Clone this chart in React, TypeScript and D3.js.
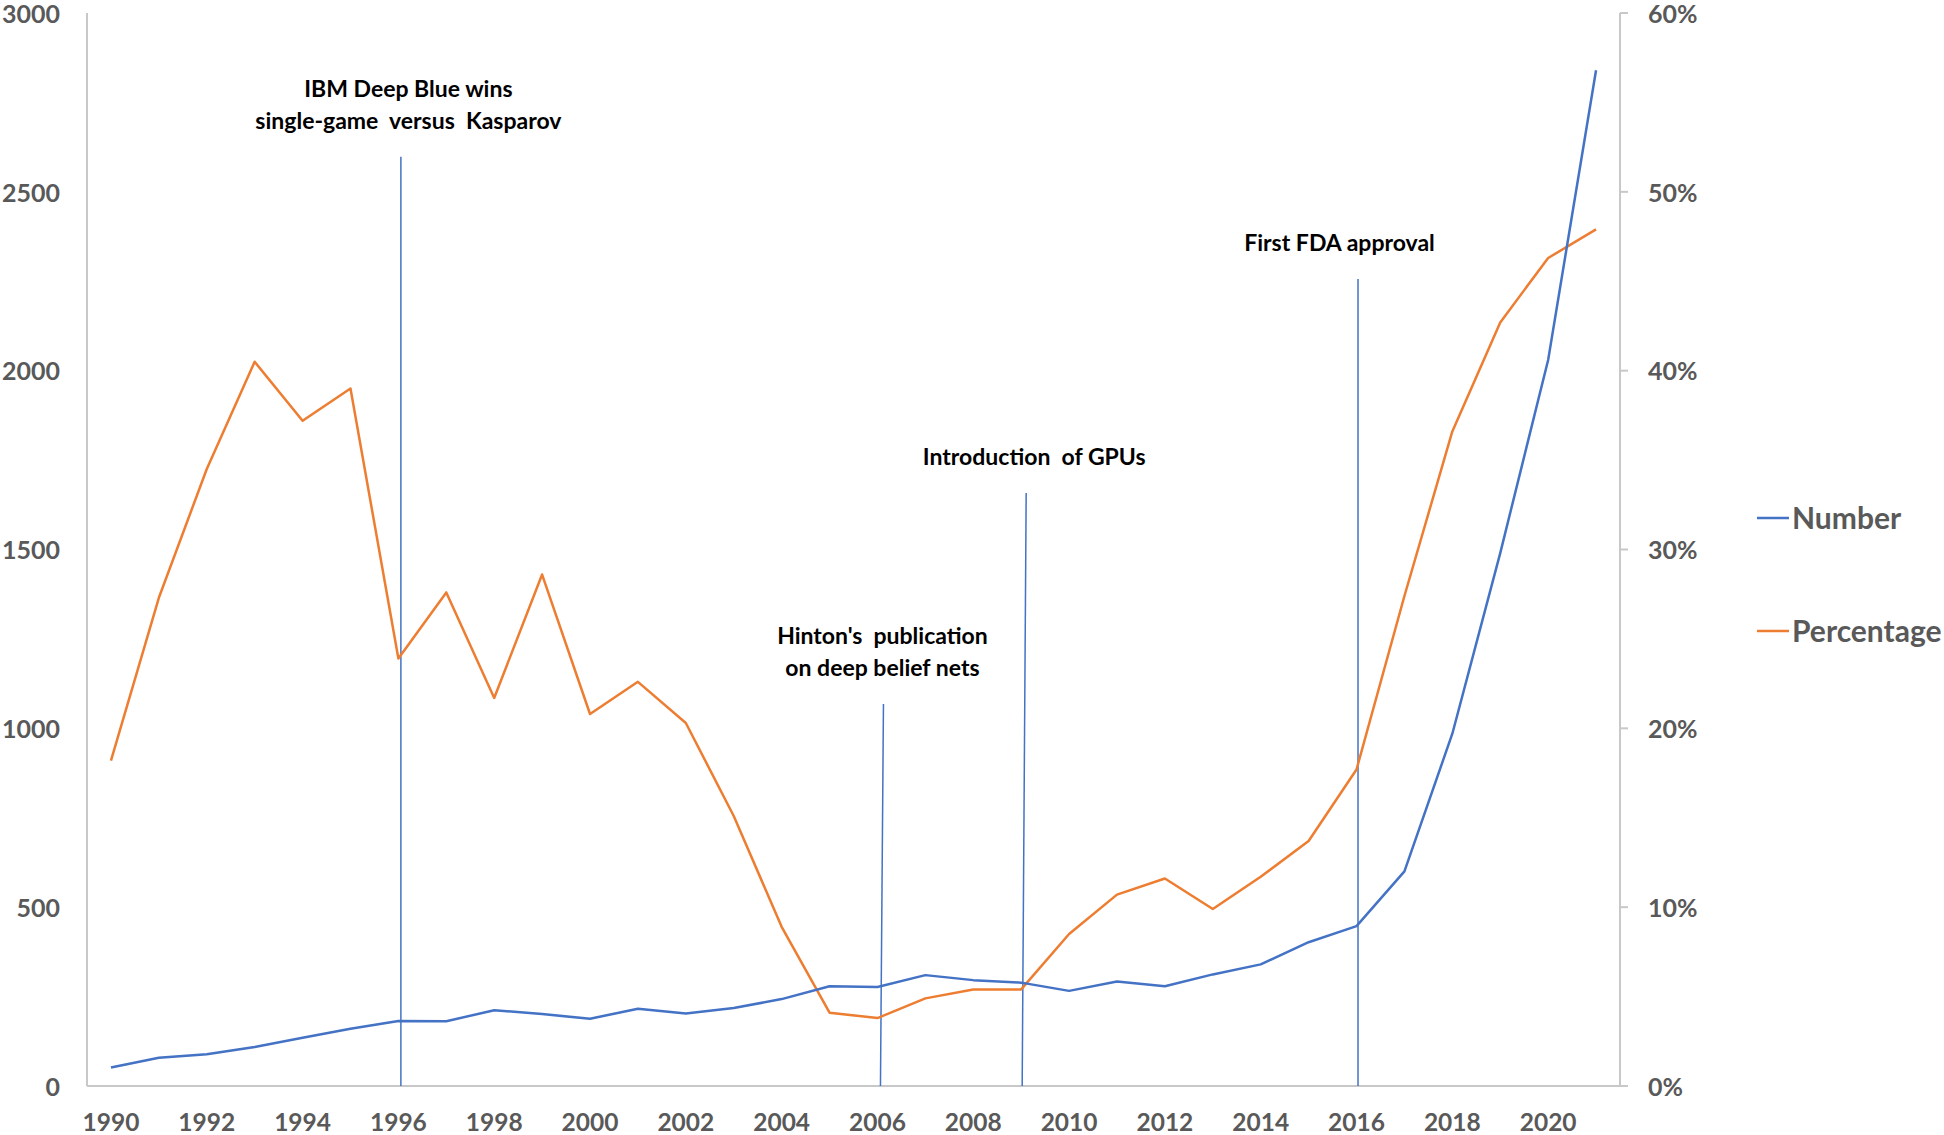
import React from "react";
import * as d3 from "d3";

const years: number[] = d3.range(1990, 2022);
const numberSeries: number[] = [52, 79, 89, 109, 135, 160, 182, 181, 212, 201, 188, 216, 203, 218, 243, 279, 277, 310, 296, 289, 266, 292, 279, 312, 340, 402, 447, 600, 985, 1490, 2030, 2840];
const percentSeries: number[] = [18.2, 27.3, 34.5, 40.5, 37.2, 39.0, 23.9, 27.6, 21.7, 28.6, 20.8, 22.6, 20.3, 15.1, 8.9, 4.1, 3.8, 4.9, 5.4, 5.4, 8.5, 10.7, 11.6, 9.9, 11.7, 13.7, 17.7, 27.4, 36.6, 42.7, 46.3, 47.9];
const leftTicks: number[] = [0, 500, 1000, 1500, 2000, 2500, 3000];
const rightTicks: number[] = [0, 10, 20, 30, 40, 50, 60];
const xTickYears: number[] = years.filter((y) => y % 2 === 0);
const eventYears: number[] = [1996, 2006, 2009, 2016];
const eventLabels: string[][] = [
  ["IBM Deep Blue wins", "single-game  versus  Kasparov"],
  ["Hinton's  publication", "on deep belief nets"],
  ["Introduction  of GPUs"],
  ["First FDA approval"],
];
const eventHeights: number[] = [2598, 1068, 1658, 2256];
const seriesNames: string[] = ["Number", "Percentage"];

// layout / style
const W = 1944, H = 1135;
const L = 87, R = 1620, T = 13, B = 1086;
const BLUE = "#4472C4", ORANGE = "#ED7D31", GREY = "#595959", AXIS = "#C8C8C8";
const FONT = "Lato, 'Open Sans', sans-serif";
const labelDx: number[] = [10, 5, 13, -17];
const lineDxBottom: number[] = [2.5, 3, 1, 1.5];
const lineDxTop: number[] = [2.5, 6, 5, 1.5];
const legendY: number[] = [518, 631];

export default function App() {
  const x = d3.scaleBand<number>().domain(years).range([L, R]);
  const cx = (yr: number) => (x(yr) as number) + x.bandwidth() / 2;
  const yL = d3.scaleLinear().domain([0, 3000]).range([B, T]);
  const yR = d3.scaleLinear().domain([0, 60]).range([B, T]);
  const lineN = d3.line<number>().x((_, i) => cx(years[i])).y((d) => yL(d));
  const lineP = d3.line<number>().x((_, i) => cx(years[i])).y((d) => yR(d));

  return (
    <svg width={W} height={H} style={{ position: "absolute", left: 0, top: 0, background: "#fff" }} fontFamily={FONT}>
      <rect width={W} height={H} fill="#fff" />
      {/* axes */}
      <line x1={L} x2={L} y1={T} y2={B} stroke={AXIS} strokeWidth={2} />
      <line x1={R} x2={R} y1={T} y2={B} stroke={AXIS} strokeWidth={2} />
      <line x1={L} x2={R + 8} y1={B} y2={B} stroke={AXIS} strokeWidth={2} />
      {rightTicks.map((t) => (
        <line key={"rt" + t} x1={R} x2={R + 8} y1={yR(t)} y2={yR(t)} stroke={AXIS} strokeWidth={2} />
      ))}
      {leftTicks.map((t) => (
        <text key={"lt" + t} x={L - 27} y={yL(t) + 1} dy="0.35em" textAnchor="end" fontSize={25} fontWeight="bold" fill={GREY}>{t}</text>
      ))}
      {rightTicks.map((t) => (
        <text key={"rl" + t} x={R + 28} y={yR(t) + 1} dy="0.35em" textAnchor="start" fontSize={25} fontWeight="bold" fill={GREY}>{t + "%"}</text>
      ))}
      {xTickYears.map((yr) => (
        <text key={"x" + yr} x={cx(yr)} y={1122} dy="0.35em" textAnchor="middle" fontSize={24.5} fontWeight="bold" fill={GREY}>{yr}</text>
      ))}
      {/* event lines */}
      {eventYears.map((yr, i) => (
        <g key={"ev" + yr}>
          <line x1={cx(yr) + lineDxTop[i]} x2={cx(yr) + lineDxBottom[i]} y1={yL(eventHeights[i])} y2={B} stroke={BLUE} strokeWidth={1.5} />
          {eventLabels[i].map((s, j) => (
            <text key={j} x={cx(yr) + labelDx[i]} y={yL(eventHeights[i]) - 36 - (eventLabels[i].length - 1 - j) * 32} dy="0.35em"
              textAnchor="middle" fontSize={23} fontWeight="bold" fill="#000" style={{ whiteSpace: "pre" }}>{s}</text>
          ))}
        </g>
      ))}
      {/* series */}
      <path d={lineP(percentSeries) as string} fill="none" stroke={ORANGE} strokeWidth={2.5} strokeLinejoin="round" />
      <path d={lineN(numberSeries) as string} fill="none" stroke={BLUE} strokeWidth={2.5} strokeLinejoin="round" />
      {/* legend */}
      {seriesNames.map((n, i) => (
        <g key={n}>
          <line x1={1757} x2={1789} y1={legendY[i]} y2={legendY[i]} stroke={i === 0 ? BLUE : ORANGE} strokeWidth={2.5} />
          <text x={1792} y={legendY[i]} dy="0.35em" fontSize={30} fontWeight="bold" fill={GREY}>{n}</text>
        </g>
      ))}
    </svg>
  );
}
